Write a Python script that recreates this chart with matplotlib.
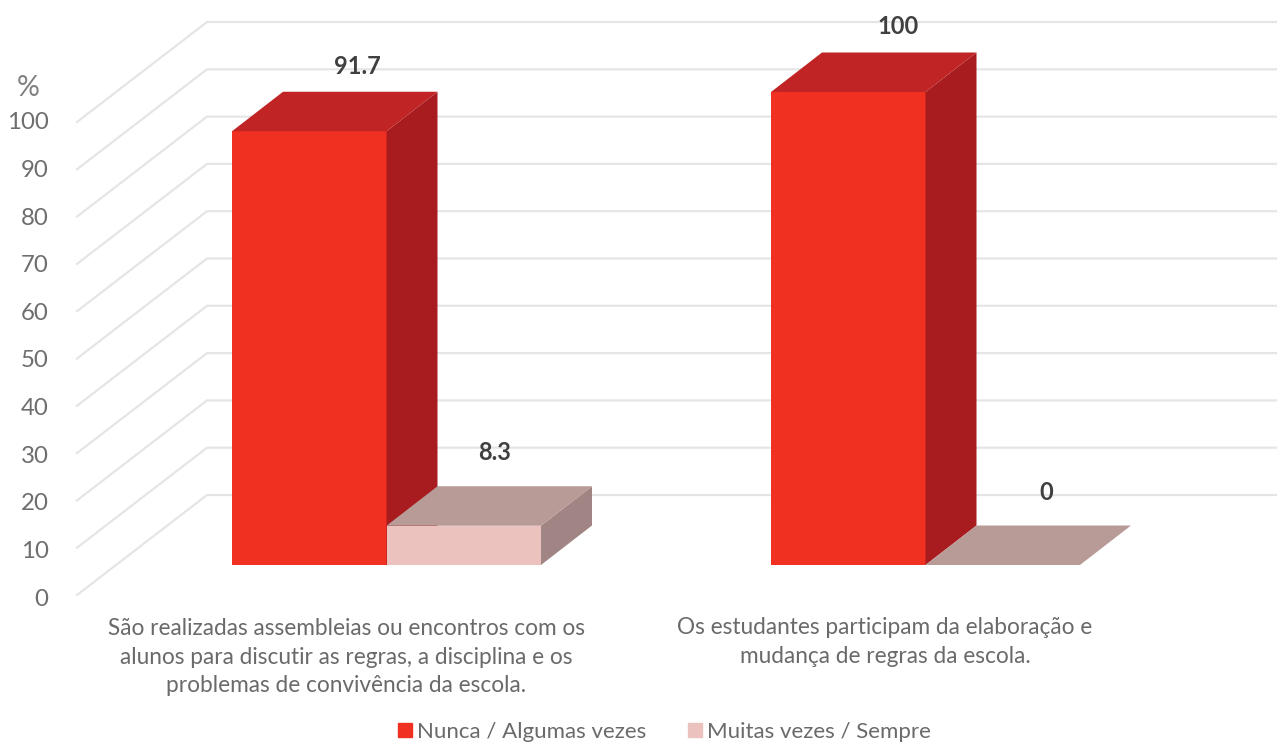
#!/usr/bin/env python3
"""Fake-3D column chart, two questions, two answer groups."""

import matplotlib
matplotlib.use('Agg')
import matplotlib.pyplot as plt
from matplotlib.patches import Patch

categories = ['São realizadas assembleias ou encontros com os\nalunos para discutir as regras, a disciplina e os\nproblemas de convivência da escola.',
              'Os estudantes participam da elaboração e\nmudança de regras da escola.']
series_names = ['Nunca / Algumas vezes', 'Muitas vezes / Sempre']
never_some = [91.7, 100]
many_always = [8.3, 0]
value_labels = [['91.7', '100'], ['8.3', '0']]
y_ticks = [0, 10, 20, 30, 40, 50, 60, 70, 80, 90, 100]

plt.rcParams['font.family'] = ['Lato', 'DejaVu Sans']

PX = 4.73  # pixels per percent
BASE = 565  # pixel row of value 0 on the bar fronts


def row(p):
    return (BASE - p) / PX


RED = ('#f03020', '#c02424', '#a81c20')
PINK = ('#ecc2bf', '#b89b97', '#a08584')
BAR_W = 154.5
DX, DY = 51, 39.5 / PX
STARTS = [232, 771]
LABEL_POS = [[(357, 66), (898, 27)], [(495, 452), (1046, 492)]]

fig = plt.figure(figsize=(12.77, 7.42), dpi=100)
ax = fig.add_axes([0, 0, 1, 1])
ax.set_xlim(0, 1277)
ax.set_ylim(row(742), row(0))
ax.axis('off')

# walls
for t in y_ticks:
    y_back = t + row(495)
    y_front = t + row(595)
    ax.plot([77, 207, 1277], [y_front, y_back, y_back], color='#e4e6e6', lw=1.6, solid_joinstyle='miter', zorder=1)
    ax.text(48.5, y_front + row(599) - row(595) + t * 0.0065, str(t), ha='right', va='center', fontsize=17.3, color='#6e6e6e')
ax.text(28, row(88), '%', ha='center', va='center', fontsize=20.5, color='#808080')


def column(x0, v, cols):
    x1 = x0 + BAR_W
    if v > 0:
        ax.fill([x0, x1, x1, x0], [0, 0, v, v], color=cols[0], lw=0, zorder=3)
        ax.fill([x1, x1 + DX, x1 + DX, x1], [0, DY, v + DY, v], color=cols[2], lw=0, zorder=3)
    ax.fill([x0, x1, x1 + DX, x0 + DX], [v, v, v + DY, v + DY], color=cols[1], lw=0, zorder=3)


for i, x0 in enumerate(STARTS):
    # red first, the pink front sits over the red side face
    column(x0, never_some[i], RED)
    column(x0 + BAR_W, many_always[i], PINK)

for s in range(2):
    for i in range(2):
        px, py = LABEL_POS[s][i]
        ax.text(px, row(py), value_labels[s][i], ha='center', va='center', fontsize=17, fontweight='bold', color='#404040', zorder=4)

ax.text(346, row(657), categories[0], ha='center', va='center', fontsize=16.3, color='#6a6a6a', linespacing=1.46)
ax.text(885, row(642), categories[1], ha='center', va='center', fontsize=16.3, color='#6a6a6a', linespacing=1.46)

handles = [Patch(color=RED[0]), Patch(color=PINK[0])]
ax.legend(handles, series_names, ncol=2, frameon=False, loc='center', bbox_to_anchor=(664.5 / 1277, 1 - 732 / 742),
          fontsize=16, labelcolor='#6a6a6a', handlelength=0.63, handleheight=0.63, handletextpad=0.22, columnspacing=1.9,
          borderpad=0, borderaxespad=0)

fig.savefig('out.png', dpi=100)
